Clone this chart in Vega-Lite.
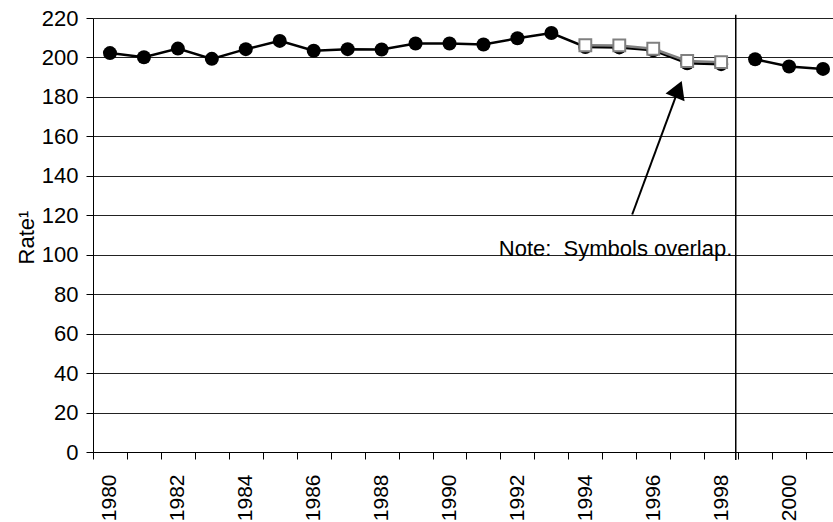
{
  "$schema": "https://vega.github.io/schema/vega-lite/v6.json",
  "autosize": "none",
  "width": 740,
  "height": 434,
  "padding": {"left": 93, "top": 18, "right": 0, "bottom": 70},
  "background": "white",
  "config": {
    "view": {"stroke": null},
    "font": "Liberation Sans",
    "axis": {"labelFont": "Liberation Sans", "titleFont": "Liberation Sans", "labelColor": "#000", "titleColor": "#000"},
    "axisY": {"labelOverlap": false, "labelFontSize": 22, "labelPadding": 8, "tickSize": 7, "tickColor": "#000", "domainColor": "#000", "grid": true, "gridColor": "#222", "gridWidth": 1}
  },
  "datasets": {
    "rates": [
      {"year": 1980, "rate": 202.2, "series": "A", "seg": 1},
      {"year": 1981, "rate": 200.1, "series": "A", "seg": 1},
      {"year": 1982, "rate": 204.5, "series": "A", "seg": 1},
      {"year": 1983, "rate": 199.3, "series": "A", "seg": 1},
      {"year": 1984, "rate": 204.2, "series": "A", "seg": 1},
      {"year": 1985, "rate": 208.4, "series": "A", "seg": 1},
      {"year": 1986, "rate": 203.4, "series": "A", "seg": 1},
      {"year": 1987, "rate": 204.2, "series": "A", "seg": 1},
      {"year": 1988, "rate": 204.0, "series": "A", "seg": 1},
      {"year": 1989, "rate": 207.1, "series": "A", "seg": 1},
      {"year": 1990, "rate": 207.1, "series": "A", "seg": 1},
      {"year": 1991, "rate": 206.6, "series": "A", "seg": 1},
      {"year": 1992, "rate": 209.7, "series": "A", "seg": 1},
      {"year": 1993, "rate": 212.4, "series": "A", "seg": 1},
      {"year": 1994, "rate": 205.3, "series": "A", "seg": 1},
      {"year": 1995, "rate": 205.1, "series": "A", "seg": 1},
      {"year": 1996, "rate": 203.6, "series": "A", "seg": 1},
      {"year": 1997, "rate": 197.0, "series": "A", "seg": 1},
      {"year": 1998, "rate": 196.6, "series": "A", "seg": 1},
      {"year": 1999, "rate": 199.1, "series": "A", "seg": 2},
      {"year": 2000, "rate": 195.4, "series": "A", "seg": 2},
      {"year": 2001, "rate": 194.2, "series": "A", "seg": 2},
      {"year": 1994, "rate": 206.2, "series": "B", "seg": 3},
      {"year": 1995, "rate": 206.1, "series": "B", "seg": 3},
      {"year": 1996, "rate": 204.4, "series": "B", "seg": 3},
      {"year": 1997, "rate": 198.2, "series": "B", "seg": 3},
      {"year": 1998, "rate": 197.6, "series": "B", "seg": 3}
    ],
    "divider": [{"x": 1998.43, "ytop": 221.7, "ybot": -4}],
    "arrow": [{"x": 1995.38, "y": 120.4, "x2": 1996.66, "y2": 180.0, "hx": 1996.74, "hy": 183.9}],
    "note": [{"x": 1991.45, "y": 99.2, "text": "Note:\u00a0 Symbols overlap."}]
  },
  "resolve": {"scale": {"x": "independent"}},
  "layer": [
    {
      "data": {"name": "rates"},
      "transform": [{"filter": "datum.series === 'A'"}],
      "mark": {"type": "line", "color": "#000", "strokeWidth": 2.5},
      "encoding": {
        "x": {
          "field": "year", "type": "ordinal",
          "scale": {"type": "band", "domain": [1980,1981,1982,1983,1984,1985,1986,1987,1988,1989,1990,1991,1992,1993,1994,1995,1996,1997,1998,1999,2000,2001], "range": [0, 747], "paddingInner": 0, "paddingOuter": 0},
          "axis": {
            "title": null,
            "tickBand": "extent",
            "labelAngle": -90,
            "labelAlign": "right",
            "labelBaseline": "middle",
            "labelFontSize": 21,
            "labelPadding": 15,
            "tickSize": 7,
            "tickColor": "#000",
            "domainColor": "#000",
            "domainWidth": 1,
            "labelExpr": "datum.value % 2 === 0 ? datum.label : ''",
            "labelOverlap": false,
            "grid": false
          }
        },
        "y": {
          "field": "rate", "type": "quantitative",
          "scale": {"domain": [0, 220], "nice": false, "zero": true},
          "axis": {
            "title": "Rate¹",
            "titleFontSize": 22,
            "titleFontWeight": "normal",
            "titleAngle": -90,
            "titleX": -60,
            "titleY": 219,
            "titleAlign": "center",
            "titleBaseline": "alphabetic",
            "values": [0,20,40,60,80,100,120,140,160,180,200,220],
            "tickCount": 30,
            "labelOverlap": false
          }
        },
        "detail": {"field": "seg"}
      }
    },
    {
      "data": {"name": "divider"},
      "mark": {"type": "rule", "color": "#000", "strokeWidth": 1.5},
      "encoding": {
        "x": {"field": "x", "type": "quantitative", "scale": {"domain": [1979.5, 2001.5], "range": [0, 747], "nice": false, "zero": false}, "axis": null},
        "y": {"field": "ytop", "type": "quantitative"},
        "y2": {"field": "ybot"}
      }
    },
    {
      "data": {"name": "rates"},
      "transform": [{"filter": "datum.series === 'A'"}],
      "mark": {"type": "point", "shape": "circle", "filled": true, "color": "#000", "size": 196, "opacity": 1},
      "encoding": {
        "x": {"field": "year", "type": "ordinal", "scale": {"type": "band", "domain": [1980,1981,1982,1983,1984,1985,1986,1987,1988,1989,1990,1991,1992,1993,1994,1995,1996,1997,1998,1999,2000,2001], "range": [0, 747], "paddingInner": 0, "paddingOuter": 0}, "axis": null},
        "y": {"field": "rate", "type": "quantitative"}
      }
    },
    {
      "data": {"name": "rates"},
      "transform": [{"filter": "datum.series === 'B'"}],
      "mark": {"type": "line", "color": "#808080", "strokeWidth": 2.5},
      "encoding": {
        "x": {"field": "year", "type": "ordinal", "scale": {"type": "band", "domain": [1980,1981,1982,1983,1984,1985,1986,1987,1988,1989,1990,1991,1992,1993,1994,1995,1996,1997,1998,1999,2000,2001], "range": [0, 747], "paddingInner": 0, "paddingOuter": 0}, "axis": null},
        "y": {"field": "rate", "type": "quantitative"}
      }
    },
    {
      "data": {"name": "rates"},
      "transform": [{"filter": "datum.series === 'B'"}],
      "mark": {"type": "point", "shape": "square", "filled": true, "fill": "#fff", "stroke": "#808080", "strokeWidth": 2, "size": 140, "opacity": 1},
      "encoding": {
        "x": {"field": "year", "type": "ordinal", "scale": {"type": "band", "domain": [1980,1981,1982,1983,1984,1985,1986,1987,1988,1989,1990,1991,1992,1993,1994,1995,1996,1997,1998,1999,2000,2001], "range": [0, 747], "paddingInner": 0, "paddingOuter": 0}, "axis": null},
        "y": {"field": "rate", "type": "quantitative"}
      }
    },
    {
      "data": {"name": "arrow"},
      "mark": {"type": "rule", "color": "#000", "strokeWidth": 2},
      "encoding": {
        "x": {"field": "x", "type": "quantitative", "scale": {"domain": [1979.5, 2001.5], "range": [0, 747], "nice": false, "zero": false}, "axis": null},
        "x2": {"field": "x2"},
        "y": {"field": "y", "type": "quantitative"},
        "y2": {"field": "y2"}
      }
    },
    {
      "data": {"name": "arrow"},
      "mark": {"type": "point", "shape": "triangle-up", "filled": true, "color": "#000", "size": 420, "angle": 22, "opacity": 1},
      "encoding": {
        "x": {"field": "hx", "type": "quantitative", "scale": {"domain": [1979.5, 2001.5], "range": [0, 747], "nice": false, "zero": false}, "axis": null},
        "y": {"field": "hy", "type": "quantitative"}
      }
    },
    {
      "data": {"name": "note"},
      "mark": {"type": "text", "align": "left", "baseline": "alphabetic", "fontSize": 22, "font": "Liberation Sans", "color": "#000"},
      "encoding": {
        "x": {"field": "x", "type": "quantitative", "scale": {"domain": [1979.5, 2001.5], "range": [0, 747], "nice": false, "zero": false}, "axis": null},
        "y": {"field": "y", "type": "quantitative"},
        "text": {"field": "text"}
      }
    }
  ]
}
